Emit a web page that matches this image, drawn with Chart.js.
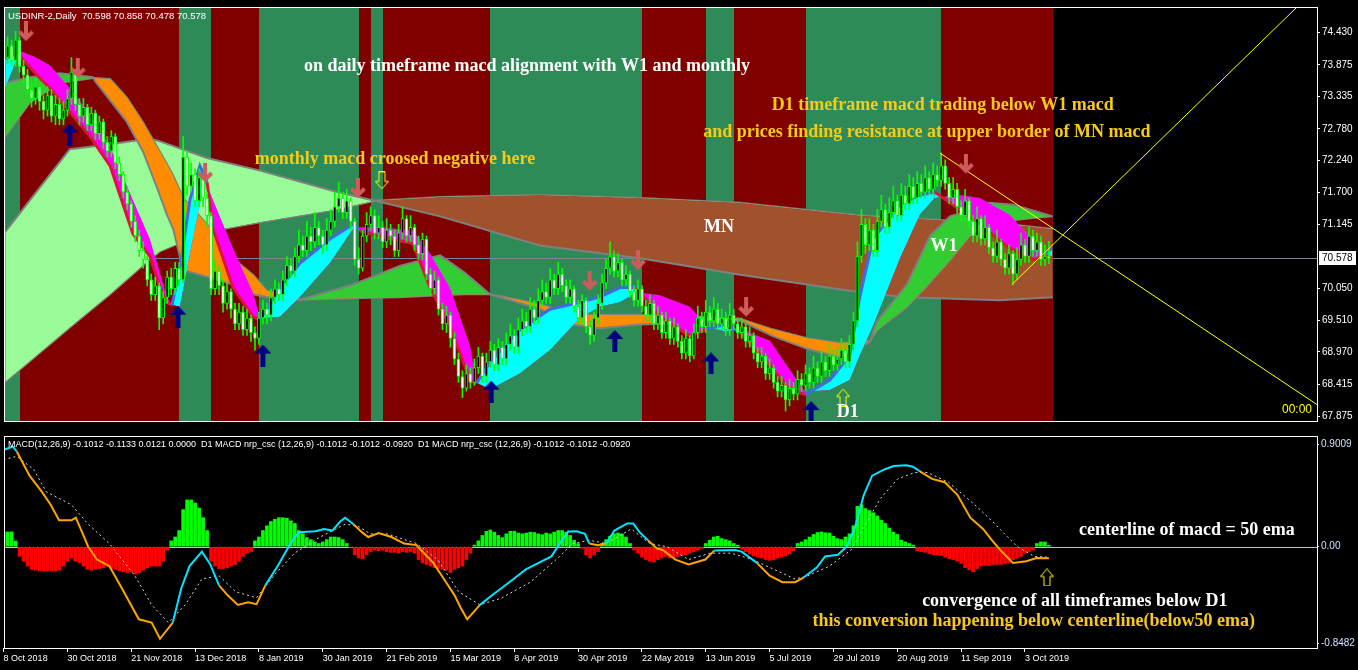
<!DOCTYPE html>
<html>
<head>
<meta charset="utf-8">
<script src="https://cdn.jsdelivr.net/npm/chart.js@4.4.1/dist/chart.umd.min.js"></script>
<style>
  body { margin: 0; background: #000; width: 1358px; height: 670px; overflow: hidden; }
  .pane { position: absolute; left: 0; width: 1358px; }
</style>
</head>
<body>
<div class="pane" style="top:0;height:429px"><canvas id="priceChart"></canvas></div>
<div class="pane" style="top:429px;height:241px"><canvas id="macdChart"></canvas></div>
<script>
// axis labels
const xTickLabels = ["8 Oct 2018", "30 Oct 2018", "21 Nov 2018", "13 Dec 2018", "8 Jan 2019", "30 Jan 2019",
  "21 Feb 2019", "15 Mar 2019", "8 Apr 2019", "30 Apr 2019", "22 May 2019", "13 Jun 2019", "5 Jul 2019",
  "29 Jul 2019", "20 Aug 2019", "11 Sep 2019", "3 Oct 2019"];
const barsPerLabel = 16;
const priceTicks = [74.430, 73.875, 73.335, 72.780, 72.240, 71.700, 71.145, 70.050, 69.510, 68.970, 68.415, 67.875];
const macdTicks = [0.9009, 0, -0.8482];

// daily candles, bar 0 = 8 Oct 2018
const opens = [
  73.90, 74.00, 74.20, 73.95, 74.30, 73.85, 73.70, 73.45, 73.30, 73.50,
  73.25, 73.10, 73.35, 73.00, 73.20, 72.95, 73.10, 73.30, 73.75, 73.20,
  73.00, 73.15, 72.85, 73.05, 72.70, 72.90, 72.55, 72.40, 72.65, 72.20,
  72.00, 71.70, 71.50, 71.20, 70.95, 70.70, 70.55, 70.20, 69.95, 70.10,
  69.55, 69.90, 70.25, 70.05, 70.40, 70.20, 72.30, 71.80, 72.00, 71.55,
  71.95, 71.60, 71.30, 70.05, 70.35, 70.10, 69.80, 70.00, 69.70, 69.45,
  69.65, 69.35, 69.55, 69.30, 69.20, 69.55, 69.70, 69.60, 69.90, 70.05,
  69.95, 70.20, 70.45, 70.35, 70.60, 70.80, 70.70, 70.95, 70.85, 71.10,
  70.95, 70.80, 71.05, 71.20, 71.45, 71.60, 71.35, 71.55, 71.20, 70.55,
  70.40, 70.95, 71.15, 71.30, 71.00, 71.10, 70.85, 71.05, 70.95, 70.70,
  71.00, 71.25, 70.95, 71.10, 70.80, 70.65, 70.90, 70.30, 70.05, 70.20,
  69.70, 69.45, 69.60, 69.20, 68.85, 68.55, 68.35, 68.60, 68.45, 68.70,
  68.90, 68.55, 68.80, 69.00, 68.75, 69.05, 68.85, 69.10, 69.25, 69.05,
  69.35, 69.50, 69.40, 69.70, 69.55, 69.85, 70.00, 69.90, 70.20, 70.05,
  70.30, 70.10, 69.90, 70.05, 69.75, 69.55, 69.85, 69.40, 69.25, 69.55,
  69.80, 70.15, 70.40, 70.60, 70.35, 70.50, 70.20, 70.30, 70.00, 69.85,
  70.05, 69.75, 69.60, 69.80, 69.45, 69.60, 69.30, 69.50, 69.20, 69.40,
  69.15, 68.95, 69.20, 68.90, 69.30, 69.55, 69.40, 69.65, 69.50, 69.70,
  69.45, 69.55, 69.35, 69.60, 69.45, 69.30, 69.40, 69.15, 69.25, 68.95,
  68.80, 68.90, 68.60, 68.70, 68.45, 68.30, 68.40, 68.15, 68.35, 68.25,
  68.50, 68.40, 68.60, 68.45, 68.70, 68.55, 68.80, 68.65, 68.90, 68.75,
  68.85, 69.00, 68.80, 69.10, 69.50, 70.60, 71.15, 70.80, 71.05, 70.70,
  71.20, 71.40, 71.10, 71.35, 71.55, 71.30, 71.65, 71.50, 71.80, 71.60,
  71.85, 71.70, 71.95, 71.75, 72.00, 71.90, 72.15, 71.85, 71.60, 71.75,
  71.45, 71.30, 71.55, 71.20, 70.95, 71.25, 70.90, 71.10, 70.75, 70.60,
  70.85, 70.55, 70.40, 70.65, 70.30, 70.55, 70.80, 70.60, 70.95, 70.70,
  70.85, 70.55, 70.598
];
const highs = [
  74.15, 74.35, 74.30, 74.45, 74.35, 73.95, 73.80, 73.60, 73.65, 73.55,
  73.35, 73.50, 73.45, 73.35, 73.30, 73.25, 73.45, 74.00, 73.80, 73.30,
  73.30, 73.20, 73.15, 73.10, 73.00, 72.95, 72.65, 72.75, 72.70, 72.30,
  72.05, 71.80, 71.55, 71.30, 71.05, 70.85, 70.60, 70.30, 70.25, 70.15,
  70.00, 70.35, 70.40, 70.50, 70.50, 72.65, 72.40, 72.20, 72.10, 72.10,
  72.00, 71.70, 71.35, 70.55, 70.45, 70.20, 70.15, 70.05, 69.80, 69.80,
  69.75, 69.70, 69.60, 69.40, 69.65, 69.85, 69.80, 70.05, 70.20, 70.15,
  70.35, 70.60, 70.55, 70.75, 71.05, 70.95, 71.20, 71.10, 71.35, 71.20,
  71.05, 71.25, 71.40, 71.70, 71.87, 71.70, 71.75, 71.60, 71.25, 70.75,
  71.05, 71.35, 71.45, 71.40, 71.30, 71.20, 71.25, 71.15, 71.05, 71.15,
  71.45, 71.30, 71.30, 71.15, 70.95, 71.00, 70.95, 70.40, 70.35, 70.25,
  69.80, 69.75, 69.65, 69.30, 68.95, 68.65, 68.75, 68.70, 68.85, 69.05,
  68.95, 68.95, 69.15, 69.10, 69.20, 69.15, 69.30, 69.45, 69.35, 69.55,
  69.70, 69.65, 69.90, 69.85, 70.05, 70.20, 70.15, 70.40, 70.30, 70.50,
  70.40, 70.20, 70.20, 70.10, 69.85, 69.95, 69.90, 69.50, 69.65, 69.95,
  70.30, 70.55, 70.85, 70.70, 70.65, 70.55, 70.45, 70.35, 70.10, 70.20,
  70.10, 69.85, 69.95, 69.85, 69.75, 69.65, 69.65, 69.55, 69.55, 69.45,
  69.25, 69.35, 69.25, 69.45, 69.75, 69.65, 69.85, 69.75, 69.90, 69.80,
  69.70, 69.65, 69.80, 69.70, 69.55, 69.55, 69.45, 69.40, 69.30, 69.05,
  69.05, 68.95, 68.85, 68.75, 68.55, 68.55, 68.45, 68.50, 68.45, 68.65,
  68.60, 68.75, 68.70, 68.90, 68.80, 69.00, 68.90, 69.10, 69.00, 69.05,
  69.20, 69.10, 69.25, 69.65, 70.85, 71.40, 71.25, 71.25, 71.15, 71.40,
  71.65, 71.50, 71.60, 71.80, 71.65, 71.85, 71.80, 72.00, 71.95, 72.05,
  72.00, 72.15, 72.05, 72.20, 72.15, 72.37, 72.25, 71.95, 71.95, 71.85,
  71.55, 71.75, 71.60, 71.30, 71.45, 71.30, 71.30, 71.15, 70.85, 71.05,
  70.90, 70.65, 70.80, 70.70, 70.75, 71.00, 70.90, 71.10, 71.05, 71.00,
  70.95, 70.80, 70.858
];
const lows = [
  73.80, 73.90, 73.85, 73.85, 73.75, 73.55, 73.35, 73.15, 73.20, 73.10,
  72.95, 73.00, 72.90, 72.85, 72.85, 72.85, 73.00, 73.20, 73.10, 72.85,
  72.90, 72.75, 72.75, 72.60, 72.60, 72.45, 72.30, 72.30, 72.10, 71.90,
  71.60, 71.40, 71.10, 70.85, 70.60, 70.40, 70.10, 69.85, 69.85, 69.35,
  69.45, 69.80, 69.95, 69.95, 70.10, 70.15, 71.65, 71.70, 71.45, 71.45,
  71.45, 71.10, 69.95, 69.95, 69.95, 69.65, 69.70, 69.55, 69.35, 69.35,
  69.25, 69.25, 69.15, 69.00, 69.10, 69.45, 69.45, 69.50, 69.80, 69.85,
  69.85, 70.10, 70.25, 70.25, 70.50, 70.60, 70.60, 70.70, 70.75, 70.80,
  70.65, 70.70, 70.95, 71.10, 71.35, 71.25, 71.25, 71.05, 70.45, 70.30,
  70.35, 70.85, 71.05, 70.90, 70.90, 70.75, 70.75, 70.80, 70.60, 70.60,
  70.90, 70.85, 70.85, 70.70, 70.55, 70.55, 70.20, 69.95, 69.95, 69.60,
  69.35, 69.30, 69.05, 68.75, 68.45, 68.19, 68.30, 68.35, 68.40, 68.60,
  68.45, 68.45, 68.70, 68.65, 68.65, 68.75, 68.75, 69.00, 68.95, 68.95,
  69.25, 69.30, 69.30, 69.45, 69.45, 69.75, 69.80, 69.80, 69.95, 69.95,
  70.00, 69.80, 69.80, 69.65, 69.45, 69.45, 69.30, 69.10, 69.15, 69.45,
  69.70, 70.05, 70.30, 70.25, 70.25, 70.10, 70.10, 69.90, 69.75, 69.75,
  69.65, 69.50, 69.50, 69.35, 69.35, 69.20, 69.20, 69.10, 69.10, 69.05,
  68.85, 68.85, 68.80, 68.85, 69.20, 69.30, 69.30, 69.40, 69.40, 69.35,
  69.35, 69.25, 69.25, 69.35, 69.20, 69.20, 69.05, 69.05, 68.85, 68.70,
  68.70, 68.50, 68.50, 68.35, 68.20, 68.20, 67.96, 68.05, 68.15, 68.15,
  68.30, 68.30, 68.35, 68.35, 68.45, 68.45, 68.55, 68.55, 68.65, 68.65,
  68.75, 68.70, 68.70, 69.00, 69.40, 70.50, 70.65, 70.70, 70.60, 70.60,
  71.10, 71.00, 71.00, 71.25, 71.20, 71.20, 71.40, 71.40, 71.50, 71.50,
  71.60, 71.60, 71.65, 71.65, 71.80, 71.80, 71.75, 71.50, 71.50, 71.35,
  71.20, 71.20, 71.10, 70.85, 70.85, 70.80, 70.80, 70.65, 70.50, 70.50,
  70.45, 70.30, 70.30, 70.12, 70.20, 70.45, 70.50, 70.50, 70.60, 70.60,
  70.45, 70.45, 70.478
];
const closes = [
  74.00, 74.20, 73.95, 74.30, 73.85, 73.70, 73.45, 73.30, 73.50, 73.25,
  73.10, 73.35, 73.00, 73.20, 72.95, 73.10, 73.30, 73.75, 73.20, 73.00,
  73.15, 72.85, 73.05, 72.70, 72.90, 72.55, 72.40, 72.65, 72.20, 72.00,
  71.70, 71.50, 71.20, 70.95, 70.70, 70.55, 70.20, 69.95, 70.10, 69.55,
  69.90, 70.25, 70.05, 70.40, 70.20, 72.30, 71.80, 72.00, 71.55, 71.95,
  71.60, 71.30, 70.05, 70.35, 70.10, 69.80, 70.00, 69.70, 69.45, 69.65,
  69.35, 69.55, 69.30, 69.20, 69.55, 69.70, 69.60, 69.90, 70.05, 69.95,
  70.20, 70.45, 70.35, 70.60, 70.80, 70.70, 70.95, 70.85, 71.10, 70.95,
  70.80, 71.05, 71.20, 71.45, 71.60, 71.35, 71.55, 71.20, 70.55, 70.40,
  70.95, 71.15, 71.30, 71.00, 71.10, 70.85, 71.05, 70.95, 70.70, 71.00,
  71.25, 70.95, 71.10, 70.80, 70.65, 70.90, 70.30, 70.05, 70.20, 69.70,
  69.45, 69.60, 69.20, 68.85, 68.55, 68.35, 68.60, 68.45, 68.70, 68.90,
  68.55, 68.80, 69.00, 68.75, 69.05, 68.85, 69.10, 69.25, 69.05, 69.35,
  69.50, 69.40, 69.70, 69.55, 69.85, 70.00, 69.90, 70.20, 70.05, 70.30,
  70.10, 69.90, 70.05, 69.75, 69.55, 69.85, 69.40, 69.25, 69.55, 69.80,
  70.15, 70.40, 70.60, 70.35, 70.50, 70.20, 70.30, 70.00, 69.85, 70.05,
  69.75, 69.60, 69.80, 69.45, 69.60, 69.30, 69.50, 69.20, 69.40, 69.15,
  68.95, 69.20, 68.90, 69.30, 69.55, 69.40, 69.65, 69.50, 69.70, 69.45,
  69.55, 69.35, 69.60, 69.45, 69.30, 69.40, 69.15, 69.25, 68.95, 68.80,
  68.90, 68.60, 68.70, 68.45, 68.30, 68.40, 68.15, 68.35, 68.25, 68.50,
  68.40, 68.60, 68.45, 68.70, 68.55, 68.80, 68.65, 68.90, 68.75, 68.85,
  69.00, 68.80, 69.10, 69.50, 70.60, 71.15, 70.80, 71.05, 70.70, 71.20,
  71.40, 71.10, 71.35, 71.55, 71.30, 71.65, 71.50, 71.80, 71.60, 71.85,
  71.70, 71.95, 71.75, 72.00, 71.90, 72.15, 71.85, 71.60, 71.75, 71.45,
  71.30, 71.55, 71.20, 70.95, 71.25, 70.90, 71.10, 70.75, 70.60, 70.85,
  70.55, 70.40, 70.65, 70.30, 70.55, 70.80, 70.60, 70.95, 70.70, 70.85,
  70.55, 70.60, 70.578
];
const lastPrice = 70.578;

// background regime bands (bar edges), alternating from an "up" band
const bandEdges = [-1, 4, 44, 52, 64, 89, 92, 95, 122, 160, 176, 183, 201, 235, 263];
const bandTrend = ["up", "down", "up", "down", "up", "down", "up", "down", "up", "down", "up", "down", "up", "down"];

// monthly macd band
const mnX = [0.4, 16.6, 26.7, 36.7, 39.2, 51.0, 64.3, 83.6, 93.1, 109.4, 134.4, 159.5, 184.6, 214.6, 226.4, 249.7, 263.0];
const mnFast = [71.020, 72.434, 72.517, 72.617, 72.567, 72.284, 72.068, 71.702, 71.552, 71.286, 70.787, 70.570, 70.288, 69.988, 69.905, 69.855, 69.905];
const mnSlow = [68.457, 69.389, 69.955, 70.554, 70.687, 71.020, 71.186, 71.402, 71.552, 71.619, 71.652, 71.602, 71.519, 71.303, 71.253, 71.170, 71.070];

// weekly macd band
const w1X = [0.4, 6.6, 14.1, 22.4, 22.9, 26.7, 30.9, 34.9, 38.4, 40.9, 42.5, 45.0, 49.2, 54.2, 57.5, 62.5, 66.0, 74.3, 86.8, 99.3,
  109.4, 115.6, 121.9, 134.4, 142.7, 149.5, 159.5, 174.5, 184.6, 192.8, 201.4, 209.6, 217.1, 218.9, 226.4, 232.2, 237.2, 243.0, 247.2, 253.0,
  259.7, 263.0];
const w1Fast = [73.565, 73.665, 73.731, 73.665, 73.598, 73.266, 72.900, 72.400, 71.785, 71.319, 71.070, 70.371, 70.288, 70.188, 70.121, 69.955, 69.905, 69.863, 70.104, 70.437,
  70.620, 70.321, 69.955, 69.705, 69.439, 69.373, 69.439, 69.472, 69.505, 69.239, 69.023, 68.874, 69.140, 69.489, 70.121, 70.953, 71.286, 71.402, 71.519, 71.485,
  71.352, 71.286];
const w1Slow = [72.650, 73.232, 73.565, 73.648, 73.648, 73.632, 73.315, 72.900, 72.484, 72.184, 71.985, 71.602, 71.286, 70.903, 70.570, 70.288, 70.021, 69.863, 69.888, 69.905,
  69.938, 69.955, 69.955, 69.789, 69.605, 69.605, 69.605, 69.572, 69.539, 69.356, 69.206, 69.123, 69.156, 69.339, 69.739, 70.155, 70.537, 71.020, 71.136, 71.219,
  71.269, 71.286];

// daily macd band
const d1X = [0.4, 2.9, 4.1, 7.9, 11.6, 16.6, 21.7, 26.7, 32.4, 36.7, 39.2, 40.9, 42.2, 44.2, 46.7, 49.2, 51.0, 52.5, 57.5, 62.5,
  64.3, 69.3, 74.3, 81.8, 87.6, 89.3, 94.3, 102.6, 106.9, 111.9, 116.9, 118.6, 121.9, 129.4, 136.9, 144.5, 149.5, 154.5, 158.7, 164.5,
  172.0, 176.3, 180.8, 184.6, 192.1, 197.1, 200.9, 207.1, 212.1, 214.6, 217.9, 224.7, 229.7, 233.4, 239.7, 244.7, 252.2, 258.5, 261.0, 262.8];
const d1Fast = [73.98, 74.06, 74.03, 73.73, 73.48, 73.07, 72.65, 72.15, 70.99, 70.60, 70.07, 69.82, 69.77, 70.40, 71.57, 72.15, 71.87, 71.07, 70.07, 69.57,
  69.52, 70.07, 70.49, 70.90, 71.15, 71.04, 70.94, 70.82, 70.07, 69.41, 68.49, 68.44, 68.80, 69.35, 69.70, 69.82, 69.91, 70.07, 70.07, 69.57,
  69.24, 69.36, 69.44, 69.31, 68.74, 68.32, 68.24, 68.49, 68.91, 69.91, 70.90, 71.49, 71.65, 71.70, 71.40, 71.15, 70.74, 70.54, 70.65, 70.74];
const d1Slow = [73.48, 73.90, 74.11, 74.01, 73.87, 73.48, 73.03, 72.48, 71.57, 70.90, 70.32, 69.91, 69.77, 69.74, 70.65, 71.49, 71.82, 71.57, 70.74, 69.99,
  69.54, 69.57, 69.91, 70.49, 71.07, 71.10, 71.10, 71.04, 70.65, 70.07, 69.07, 68.44, 68.33, 68.60, 69.00, 69.55, 69.74, 69.82, 69.99, 69.94,
  69.74, 69.41, 69.32, 69.36, 69.16, 68.66, 68.29, 68.32, 68.49, 68.91, 69.41, 70.57, 71.32, 71.60, 71.65, 71.60, 71.32, 70.82, 70.65, 70.60];

// trend lines drawn on the chart
const trendUp = [{ x: 252.7, y: 70.12 }, { x: 329.2, y: 75.195 }];
const trendDown = [{ x: 234.7, y: 72.368 }, { x: 329.2, y: 68.07 }];

// signal arrows
const downArrows = [{ x: 5.6, y: 74.447 }, { x: 18.6, y: 73.815 }, { x: 50.5, y: 72.034 }, { x: 88.8, y: 71.768 },
  { x: 146.9, y: 70.188 }, { x: 159.0, y: 70.537 }, { x: 186.1, y: 69.739 }, { x: 241.2, y: 72.184 }];
const upArrows = [{ x: 16.6, y: 72.684 }, { x: 43.7, y: 69.572 }, { x: 65.0, y: 68.907 }, { x: 122.2, y: 68.291 },
  { x: 153.2, y: 69.156 }, { x: 177.3, y: 68.773 }, { x: 202.4, y: 67.942 }];
const markArrows = [{ x: 94.8, y: 71.901 }, { x: 210.4, y: 68.191 }];
const macdMark = [{ x: 261.5, y: -0.27 }];

// MACD histogram, one value per bar
const histValues = [
  0.13, 0.13, 0.13, 0.05, -0.085, -0.128, -0.17, -0.199, -0.206, -0.213,
  -0.213, -0.213, -0.213, -0.213, -0.206, -0.17, -0.128, -0.099, -0.128, -0.142,
  -0.17, -0.199, -0.206, -0.199, -0.192, -0.184, -0.17, -0.192, -0.199, -0.213,
  -0.22, -0.227, -0.22, -0.241, -0.227, -0.206, -0.184, -0.17, -0.17, -0.17,
  -0.128, -0.029, 0.051, 0.085, 0.142, 0.326, 0.411, 0.411, 0.383, 0.34,
  0.255, 0.142, -0.128, -0.17, -0.192, -0.192, -0.184, -0.17, -0.156, -0.128,
  -0.085, -0.057, -0.043, 0.051, 0.085, 0.142, 0.184, 0.221, 0.241, 0.255,
  0.255, 0.25, 0.227, 0.204, 0.142, 0.113, 0.08, 0.062, 0.042, 0.028,
  0.042, 0.062, 0.085, 0.085, 0.08, 0.062, 0.028, -0.005, -0.071, -0.099,
  -0.106, -0.071, -0.043, -0.029, -0.035, -0.029, -0.043, -0.05, -0.05, -0.057,
  -0.043, -0.05, -0.043, -0.057, -0.113, -0.142, -0.156, -0.17, -0.184, -0.192,
  -0.199, -0.206, -0.227, -0.199, -0.184, -0.17, -0.113, -0.057, 0.014, 0.051,
  0.099, 0.135, 0.147, 0.128, 0.099, 0.08, 0.113, 0.135, 0.135, 0.12,
  0.113, 0.12, 0.128, 0.125, 0.113, 0.106, 0.12, 0.113, 0.128, 0.142,
  0.142, 0.128, 0.099, 0.057, 0.028, -0.015, -0.071, -0.099, -0.071, -0.043,
  0.028, 0.062, 0.092, 0.113, 0.12, 0.113, 0.085, 0.028, -0.029, -0.057,
  -0.092, -0.113, -0.128, -0.135, -0.113, -0.099, -0.085, -0.099, -0.092, -0.085,
  -0.078, -0.071, -0.057, -0.043, -0.029, -0.015, 0.028, 0.057, 0.085, 0.092,
  0.071, 0.062, 0.051, 0.028, 0.014, -0.022, -0.043, -0.064, -0.081, -0.092,
  -0.099, -0.113, -0.12, -0.113, -0.099, -0.092, -0.081, -0.064, -0.035, 0.028,
  0.042, 0.062, 0.085, 0.108, 0.125, 0.13, 0.122, 0.12, 0.092, 0.071,
  0.062, 0.085, 0.113, 0.184, 0.355, 0.369, 0.335, 0.318, 0.298, 0.27,
  0.233, 0.204, 0.164, 0.128, 0.108, 0.057, 0.042, 0.028, 0.014, -0.034,
  -0.043, -0.05, -0.062, -0.071, -0.071, -0.078, -0.092, -0.106, -0.113, -0.128,
  -0.147, -0.184, -0.204, -0.22, -0.192, -0.17, -0.165, -0.165, -0.156, -0.156,
  -0.156, -0.147, -0.142, -0.113, -0.099, -0.085, -0.057, -0.043, -0.029, 0.028,
  0.042, 0.042, 0.012
];

// MACD main line and signal line
const macdX = [0, 2.3, 3.3, 6.5, 9.6, 11.8, 13.9, 17.0, 18.1, 20.2, 21.2, 23.4, 26.5, 29.7, 33.9, 37.1, 39.2, 42.4, 44.5, 46.6,
  49.7, 51.8, 54.0, 56.1, 58.7, 61.3, 63.4, 65.6, 68.7, 71.9, 74.0, 78.2, 80.3, 82.4, 84.5, 85.6, 87.7, 89.8, 91.4, 94.0,
  97.2, 100.4, 103.5, 104.6, 107.7, 110.9, 113.0, 114.6, 116.2, 119.4, 122.5, 124.6, 127.8, 130.9, 134.1, 137.3, 139.4, 141.5, 143.6, 145.7,
  146.8, 148.9, 151.0, 153.1, 156.3, 157.8, 159.4, 161.5, 163.7, 165.2, 168.4, 171.7, 175.9, 178.1, 183.4, 185.0, 188.8, 192.0, 195.2, 198.4,
  200.6, 203.8, 205.9, 209.1, 211.3, 213.4, 215.6, 217.7, 220.9, 223.1, 226.3, 227.9, 229.5, 232.7, 235.9, 239.1, 242.3, 245.5, 247.7, 249.8,
  253.0, 256.3, 258.9, 262];
const macdMain = [0.851, 0.879, 0.837, 0.624, 0.482, 0.369, 0.232, 0.232, 0.255, 0.085, 0.0, -0.113, -0.170, -0.369, -0.638, -0.667, -0.809, -0.667, -0.369, -0.170,
  -0.043, -0.156, -0.340, -0.425, -0.511, -0.488, -0.505, -0.340, -0.170, 0.028, 0.128, 0.136, 0.156, 0.142, 0.227, 0.255, 0.198, 0.128, 0.085, 0.119,
  0.085, 0.028, 0.014, -0.029, -0.142, -0.312, -0.425, -0.539, -0.638, -0.511, -0.425, -0.369, -0.284, -0.199, -0.142, -0.085, 0.028, 0.133, 0.136, 0.113,
  0.028, 0.014, 0.028, 0.142, 0.204, 0.204, 0.128, 0.057, -0.015, -0.029, -0.113, -0.156, -0.113, -0.034, -0.029, -0.043, -0.142, -0.255, -0.312, -0.312,
  -0.269, -0.184, -0.085, -0.071, 0.0, 0.17, 0.454, 0.624, 0.681, 0.709, 0.715, 0.703, 0.667, 0.596, 0.567, 0.454, 0.255, 0.156, 0.057, -0.029,
  -0.142, -0.128, -0.099, -0.101];
const sigX = [0, 3.3, 7.5, 10.7, 17.0, 21.2, 26.5, 32.9, 37.1, 41.3, 45.5, 49.7, 54.0, 58.2, 63.4, 67.7, 72.9, 79.3, 85.6, 88.7,
  91.9, 96.1, 103.5, 108.8, 114.1, 119.4, 124.6, 132.0, 139.4, 142.6, 146.8, 151.0, 157.3, 162.0, 166.3, 171.7, 177.0, 182.4, 187.7, 193.1,
  198.4, 201.6, 207.0, 212.4, 215.6, 219.8, 224.1, 228.4, 231.6, 236.8, 243.4, 247.7, 250.9, 254.1, 258.4, 262];
const sigVals = [0.766, 0.794, 0.681, 0.482, 0.369, 0.198, 0.028, -0.255, -0.511, -0.667, -0.511, -0.284, -0.255, -0.397, -0.448, -0.255, -0.057, 0.085, 0.198, 0.184,
  0.113, 0.113, 0.028, -0.113, -0.397, -0.511, -0.454, -0.312, -0.085, 0.028, 0.057, 0.028, 0.156, 0.028, 0.0, -0.113, -0.057, -0.057, -0.113, -0.199,
  -0.284, -0.255, -0.170, -0.029, 0.17, 0.425, 0.596, 0.652, 0.652, 0.567, 0.369, 0.227, 0.113, 0.0, -0.085, -0.092];

// ---------------------------------------------------------------------------
const X_MIN = 0.35, X_MAX = 329.2;
const GOLD = "#F7CB15";
const NOTE_FONT = "bold 18px 'Liberation Serif', 'Times New Roman', serif";
const SMALL_FONT = "'Liberation Sans', Arial, sans-serif";

Chart.defaults.font.family = SMALL_FONT;
Chart.defaults.color = "#fff";

const priceNotes = [
  { text: "on daily timeframe macd alignment with W1 and monthly", x: 131.2, y: 73.848, color: "#fff" },
  { text: "monthly macd croosed negative here", x: 98.1, y: 72.267, color: GOLD },
  { text: "D1 timeframe macd trading below W1 macd", x: 235.4, y: 73.182, color: GOLD },
  { text: "and prices finding resistance at upper border of MN macd", x: 231.4, y: 72.716, color: GOLD },
  { text: "MN", x: 179.3, y: 71.103, color: "#fff" },
  { text: "W1", x: 235.7, y: 70.77, color: "#fff" },
  { text: "D1", x: 211.6, y: 67.93, color: "#fff" }
];
const macdNotes = [
  { text: "centerline of macd = 50 ema", x: 296.6, y: 0.147, color: "#fff" },
  { text: "convergence of all timeframes below D1", x: 268.5, y: -0.483, color: "#fff" },
  { text: "this conversion happening below centerline(below50 ema)", x: 258.2, y: -0.653, color: GOLD }
];

function pts(xs, ys) { return xs.map((x, k) => ({ x: x, y: ys[k] })); }

function signalAt(x) {
  for (let k = 1; k < sigX.length; k++) {
    if (x <= sigX[k]) {
      const t = (x - sigX[k - 1]) / (sigX[k] - sigX[k - 1]);
      return sigVals[k - 1] + t * (sigVals[k] - sigVals[k - 1]);
    }
  }
  return sigVals[sigVals.length - 1];
}

// arrow glyphs used as point styles
function blockArrow(up, color) {
  const c = document.createElement("canvas");
  c.width = 17; c.height = 22;
  const g = c.getContext("2d");
  const shape = [[8.5, 0], [17, 9], [11, 9], [11, 22], [6, 22], [6, 9], [0, 9]];
  g.fillStyle = color;
  g.beginPath();
  shape.forEach(([px, py], k) => { const yy = up ? py : 22 - py; k ? g.lineTo(px, yy) : g.moveTo(px, yy); });
  g.closePath();
  g.fill();
  return c;
}
function chevronArrow(color) {
  const c = document.createElement("canvas");
  c.width = 16; c.height = 20;
  const g = c.getContext("2d");
  g.strokeStyle = color;
  g.lineWidth = 4;
  g.beginPath(); g.moveTo(8, 0); g.lineTo(8, 17); g.stroke();
  g.beginPath(); g.moveTo(1.5, 10.5); g.lineTo(8, 17); g.lineTo(14.5, 10.5); g.stroke();
  return c;
}
function hollowArrow(up, color) {
  const c = document.createElement("canvas");
  c.width = 14; c.height = 18;
  const g = c.getContext("2d");
  const shape = [[7, 0.5], [13.5, 8], [10, 8], [10, 17.5], [4, 17.5], [4, 8], [0.5, 8]];
  g.strokeStyle = color;
  g.lineWidth = 1;
  g.beginPath();
  shape.forEach(([px, py], k) => { const yy = up ? py : 18 - py; k ? g.lineTo(px, yy) : g.moveTo(px, yy); });
  g.closePath();
  g.stroke();
  return c;
}

function drawNotes(chart, notes) {
  const { ctx, scales: { x, y } } = chart;
  ctx.save();
  ctx.font = NOTE_FONT;
  ctx.textAlign = "center";
  ctx.textBaseline = "middle";
  notes.forEach(n => {
    ctx.fillStyle = n.color;
    ctx.fillText(n.text, x.getPixelForValue(n.x), y.getPixelForValue(n.y));
  });
  ctx.restore();
}

function drawFrame(chart) {
  const { ctx, chartArea: a } = chart;
  ctx.save();
  ctx.strokeStyle = "#fff";
  ctx.lineWidth = 1;
  ctx.strokeRect(a.left - 0.5, a.top - 0.5, a.right - a.left + 1, a.bottom - a.top + 1);
  ctx.restore();
}

const pricePanel = {
  id: "pricePanel",
  beforeDatasetsDraw(chart) {
    const { ctx, chartArea: a, scales: { x, y } } = chart;
    ctx.save();
    for (let k = 0; k < bandTrend.length; k++) {
      const x0 = Math.max(a.left, Math.round(x.getPixelForValue(bandEdges[k])));
      const x1 = Math.min(a.right, Math.round(x.getPixelForValue(bandEdges[k + 1])));
      ctx.fillStyle = bandTrend[k] === "up" ? "#2E8B57" : "#800000";
      ctx.fillRect(x0, a.top, x1 - x0, a.bottom - a.top);
    }
    const py = Math.round(y.getPixelForValue(lastPrice)) + 0.5;
    ctx.strokeStyle = "#778899";
    ctx.lineWidth = 1;
    ctx.beginPath(); ctx.moveTo(a.left, py); ctx.lineTo(a.right, py); ctx.stroke();
    ctx.restore();
  },
  afterDatasetsDraw(chart) {
    const { ctx, chartArea: a, scales: { y } } = chart;
    drawNotes(chart, priceNotes);
    drawFrame(chart);
    ctx.save();
    ctx.textBaseline = "middle";
    ctx.textAlign = "left";
    ctx.font = "9.5px " + SMALL_FONT;
    ctx.fillStyle = "#fff";
    ctx.fillText("USDINR-2,Daily  70.598 70.858 70.478 70.578", a.left + 3, a.top + 8);
    const py = Math.round(y.getPixelForValue(lastPrice));
    ctx.font = "10px " + SMALL_FONT;
    ctx.fillStyle = "#fff";
    ctx.fillRect(a.right + 2, py - 7, 37, 14);
    ctx.fillStyle = "#000";
    ctx.fillText(lastPrice.toFixed(3), a.right + 5, py + 0.5);
    ctx.font = "12px " + SMALL_FONT;
    ctx.fillStyle = "#FFFF00";
    ctx.textAlign = "right";
    ctx.fillText("00:00", a.right - 5, a.bottom - 11);
    ctx.restore();
  }
};

const macdPanel = {
  id: "macdPanel",
  beforeDatasetsDraw(chart) {
    const { ctx, chartArea: a, scales: { y } } = chart;
    const zy = Math.round(y.getPixelForValue(0)) + 0.5;
    ctx.save();
    ctx.strokeStyle = "#C0C0C0";
    ctx.lineWidth = 1;
    ctx.beginPath(); ctx.moveTo(a.left, zy); ctx.lineTo(a.right, zy); ctx.stroke();
    ctx.restore();
  },
  afterDatasetsDraw(chart) {
    const { ctx, chartArea: a } = chart;
    drawNotes(chart, macdNotes);
    drawFrame(chart);
    ctx.save();
    ctx.font = "9px " + SMALL_FONT;
    ctx.fillStyle = "#fff";
    ctx.textBaseline = "middle";
    ctx.fillText("MACD(12,26,9) -0.1012 -0.1133 0.0121 0.0000  D1 MACD nrp_csc (12,26,9) -0.1012 -0.1012 -0.0920  D1 MACD nrp_csc (12,26,9) -0.1012 -0.1012 -0.0920", a.left + 3, a.top + 8);
    ctx.restore();
  }
};

const bodyData = closes.map((c, i) => ({ x: i, y: [opens[i], c] }));
const wickData = closes.map((c, i) => ({ x: i, y: [lows[i], highs[i]] }));

// price panel
new Chart(document.getElementById("priceChart").getContext("2d"), {
  type: "line",
  data: {
    datasets: [
      { type: "scatter", data: downArrows, pointStyle: chevronArrow("#CD5C5C"), pointRadius: 5 },
      { type: "scatter", data: upArrows, pointStyle: blockArrow(true, "#000080"), pointRadius: 5 },
      { type: "scatter", data: markArrows, pointStyle: [hollowArrow(false, "#FFFF00"), hollowArrow(true, "#FFFF00")], pointRadius: 5 },
      { data: trendUp, borderColor: "#FFFF00", borderWidth: 1, pointRadius: 0 },
      { data: trendDown, borderColor: "#FFFF00", borderWidth: 1, pointRadius: 0 },
      {
        type: "bar", data: bodyData, grouped: false, barThickness: 3, borderWidth: 1, borderSkipped: false,
        borderColor: "#00FF00",
        backgroundColor: closes.map((c, i) => (c >= opens[i] ? "#000000" : "#FFFFFF"))
      },
      { type: "bar", data: wickData, grouped: false, barThickness: 1, backgroundColor: "#00FF00", borderWidth: 0 },
      {
        data: pts(d1X, d1Fast), borderWidth: 3, pointRadius: 0,
        fill: { target: 8, above: "#00FFFF", below: "#FF00FF" },
        segment: {
          borderColor: (c) => {
            const d = d1Fast[c.p0DataIndex] - d1Slow[c.p0DataIndex] + d1Fast[c.p1DataIndex] - d1Slow[c.p1DataIndex];
            return d >= 0 ? "#4169E1" : "#DC143C";
          }
        }
      },
      { data: pts(d1X, d1Slow), borderWidth: 0, borderColor: "rgba(0,0,0,0)", pointRadius: 0 },
      { data: pts(w1X, w1Fast), borderColor: "#808080", borderWidth: 2, pointRadius: 0, fill: { target: 10, above: "#32CD32", below: "#FF8C00" } },
      { data: pts(w1X, w1Slow), borderColor: "#808080", borderWidth: 2, pointRadius: 0 },
      { data: pts(mnX, mnFast), borderColor: "#808080", borderWidth: 2, pointRadius: 0, fill: { target: 12, above: "#98FB98", below: "#A0522D" } },
      { data: pts(mnX, mnSlow), borderColor: "#808080", borderWidth: 2, pointRadius: 0 }
    ]
  },
  options: {
    responsive: true,
    maintainAspectRatio: false,
    animation: false,
    devicePixelRatio: 1,
    events: [],
    layout: { padding: { left: 5, top: 3, right: 0, bottom: 2 }, autoPadding: false },
    elements: { line: { tension: 0 } },
    plugins: { legend: { display: false }, tooltip: { enabled: false } },
    scales: {
      x: { type: "linear", min: X_MIN, max: X_MAX, offset: false, grid: { offset: false }, display: false },
      y: {
        type: "linear", position: "right", min: 67.79, max: 74.846,
        afterBuildTicks: (s) => { s.ticks = priceTicks.map(v => ({ value: v })); },
        afterFit: (s) => { s.width = 41; },
        ticks: { color: "#fff", font: { size: 10 }, padding: 2, autoSkip: false, callback: (v) => Number(v).toFixed(3) },
        grid: { drawOnChartArea: false, color: "#fff", tickLength: 3 },
        border: { display: false }
      }
    }
  },
  plugins: [pricePanel]
});

// MACD panel
new Chart(document.getElementById("macdChart").getContext("2d"), {
  type: "line",
  data: {
    datasets: [
      { type: "scatter", data: macdMark, pointStyle: hollowArrow(true, "#FFFF00"), pointRadius: 5 },
      {
        data: pts(macdX, macdMain), borderWidth: 2, pointRadius: 0,
        segment: {
          borderColor: (c) => {
            const xm = (c.p0.parsed.x + c.p1.parsed.x) / 2;
            const ym = (c.p0.parsed.y + c.p1.parsed.y) / 2;
            return ym >= signalAt(xm) ? "#00E5FF" : "#FFA500";
          }
        }
      },
      { data: pts(sigX, sigVals), borderColor: "#D8D8D8", borderWidth: 1, borderDash: [2, 3], pointRadius: 0 },
      {
        type: "bar", data: histValues.map((v, i) => ({ x: i, y: v })), grouped: false, barThickness: 3, borderWidth: 0,
        backgroundColor: histValues.map(v => (v >= 0 ? "#00FF00" : "#FF0000"))
      }
    ]
  },
  options: {
    responsive: true,
    maintainAspectRatio: false,
    animation: false,
    devicePixelRatio: 1,
    events: [],
    layout: { padding: { left: 5, top: 1, right: 0, bottom: 0 }, autoPadding: false },
    elements: { line: { tension: 0 } },
    plugins: { legend: { display: false }, tooltip: { enabled: false } },
    scales: {
      x: {
        type: "linear", min: X_MIN, max: X_MAX, position: "bottom", offset: false,
        afterBuildTicks: (s) => { s.ticks = xTickLabels.map((_, k) => ({ value: k * barsPerLabel })); },
        afterFit: (s) => { s.height = 22; },
        ticks: {
          color: "#fff", font: { size: 9 }, align: "start", padding: 1, maxRotation: 0, autoSkip: false,
          callback: (v, i) => xTickLabels[i]
        },
        grid: { drawOnChartArea: false, offset: false, color: "#fff", tickLength: 4 },
        border: { display: false }
      },
      y: {
        type: "linear", position: "right", min: -0.89, max: 0.964,
        afterBuildTicks: (s) => { s.ticks = macdTicks.map(v => ({ value: v })); },
        afterFit: (s) => { s.width = 41; },
        ticks: { color: "#CFE2FF", font: { size: 10 }, padding: 2, autoSkip: false, callback: (v) => (v === 0 ? "0.00" : Number(v).toFixed(4)) },
        grid: { drawOnChartArea: false, color: "#fff", tickLength: 2 },
        border: { display: false }
      }
    }
  },
  plugins: [macdPanel]
});
</script>
</body>
</html>
